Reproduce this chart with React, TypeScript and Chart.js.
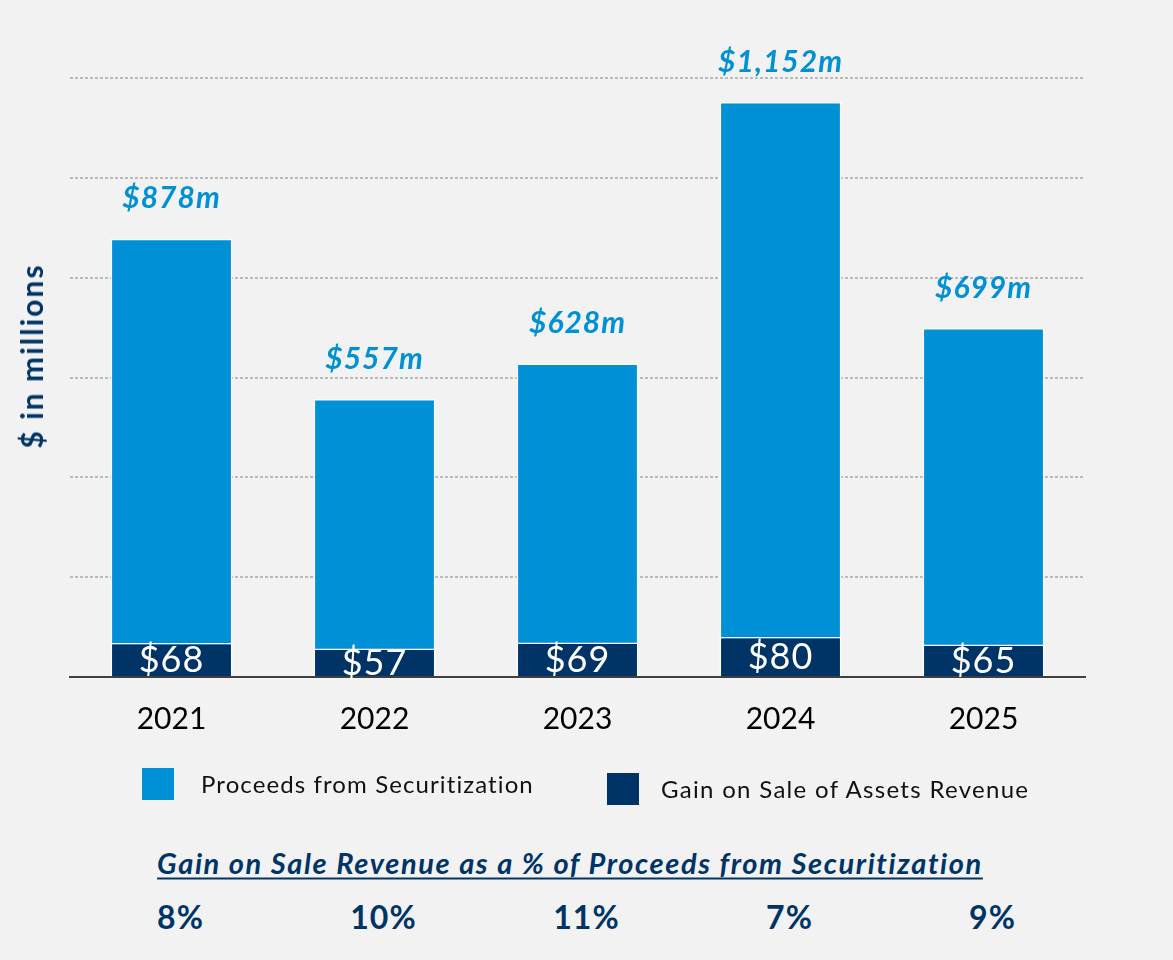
import React, { useEffect, useRef } from 'react';
import { Chart, registerables } from 'chart.js';

Chart.register(...registerables);

const years = ['2021', '2022', '2023', '2024', '2025'];
const proceeds = [878, 557, 628, 1152, 699];
const gainOnSale = [68, 57, 69, 80, 65];
const proceedsLabels = ['$878m', '$557m', '$628m', '$1,152m', '$699m'];
const gainLabels = ['$68', '$57', '$69', '$80', '$65'];
const pctLabels = ['8%', '10%', '11%', '7%', '9%'];
const yMax = 1200;
const yStep = 200;

const BLUE = '#0090D5';
const NAVY = '#003467';
const FONT = 'Lato, "Open Sans", sans-serif';

const labelPlugin = {
  id: 'barLabels',
  afterDatasetsDraw(chart: any) {
    const ctx = chart.ctx;
    const pMeta = chart.getDatasetMeta(0);
    const gMeta = chart.getDatasetMeta(1);
    ctx.save();
    ctx.textAlign = 'center';
    ctx.textBaseline = 'middle';
    pMeta.data.forEach((bar: any, i: number) => {
      ctx.font = `italic bold 30px ${FONT}`;
      ctx.fillStyle = BLUE;
      (ctx as any).letterSpacing = '1px';
      ctx.fillText(proceedsLabels[i], bar.x, bar.y - 40);
    });
    gMeta.data.forEach((bar: any, i: number) => {
      ctx.font = `36px ${FONT}`;
      ctx.fillStyle = '#FFFFFF';
      (ctx as any).letterSpacing = '1px';
      ctx.fillText(gainLabels[i], bar.x, (bar.y + bar.base) / 2 + 1);
    });
    ctx.restore();
  },
};

export default function App() {
  const canvasRef = useRef<HTMLCanvasElement | null>(null);

  useEffect(() => {
    if (!canvasRef.current) return;
    const chart = new Chart(canvasRef.current, {
      type: 'bar',
      data: {
        labels: years,
        datasets: [
          {
            label: 'Proceeds from Securitization',
            data: proceeds,
            backgroundColor: BLUE,
            borderColor: '#FFFFFF',
            borderWidth: 1.5,
            order: 1,
          },
          {
            label: 'Gain on Sale of Assets Revenue',
            data: gainOnSale,
            backgroundColor: NAVY,
            borderColor: '#FFFFFF',
            borderWidth: 1.5,
            order: 0,
          },
        ],
      },
      options: {
        animation: false,
        responsive: false,
        maintainAspectRatio: false,
        layout: { padding: { left: 70, right: 88, top: 78, bottom: 10 } },
        datasets: { bar: { barPercentage: 0.6, categoryPercentage: 1 } },
        plugins: {
          legend: { display: false },
          tooltip: { enabled: false },
          title: { display: false },
        },
        scales: {
          x: {
            stacked: true,
            grid: { display: false, drawTicks: false },
            border: { display: true, color: '#404040', width: 2 },
            ticks: {
              color: '#000000',
              padding: 24,
              font: { family: FONT, size: 30 },
            },
          },
          y: {
            stacked: false,
            min: 0,
            max: yMax,
            grid: {
              drawTicks: false,
              lineWidth: 2,
              color: (c: any) => (c.tick && c.tick.value === 0 ? 'rgba(0,0,0,0)' : '#BBBBBB'),
            },
            border: { display: false, dash: [3, 2] },
            ticks: { display: false, stepSize: yStep },
          },
        },
      },
      plugins: [labelPlugin],
    } as any);
    return () => chart.destroy();
  }, []);

  return (
    <div
      style={{
        position: 'absolute',
        left: 0,
        top: 0,
        width: 1173,
        height: 960,
        background: '#F2F2F2',
        fontFamily: FONT,
        overflow: 'hidden',
      }}
    >
      <canvas
        ref={canvasRef}
        width={1173}
        height={771}
        style={{ position: 'absolute', left: 0, top: 0, width: 1173, height: 771 }}
      />
      <div
        style={{
          position: 'absolute',
          left: 31,
          top: 356,
          transform: 'translate(-50%, -50%) rotate(-90deg)',
          whiteSpace: 'nowrap',
          fontWeight: 700,
          fontSize: 30,
          letterSpacing: 2,
          color: NAVY,
        }}
      >
        $ in millions
      </div>

      <div style={{ position: 'absolute', left: 142, top: 768, width: 32, height: 32, background: BLUE }} />
      <div
        style={{
          position: 'absolute',
          left: 201,
          top: 783,
          transform: 'translateY(-50%)',
          fontSize: 24,
          letterSpacing: 1.1,
          color: '#111',
          whiteSpace: 'nowrap',
        }}
      >
        Proceeds from Securitization
      </div>
      <div style={{ position: 'absolute', left: 607, top: 773, width: 32, height: 32, background: NAVY }} />
      <div
        style={{
          position: 'absolute',
          left: 661,
          top: 788,
          transform: 'translateY(-50%)',
          fontSize: 24,
          letterSpacing: 1.3,
          color: '#111',
          whiteSpace: 'nowrap',
        }}
      >
        Gain on Sale of Assets Revenue
      </div>

      <div
        style={{
          position: 'absolute',
          left: 570,
          top: 862,
          transform: 'translate(-50%, -50%)',
          fontSize: 29,
          fontWeight: 700,
          fontStyle: 'italic',
          letterSpacing: 1.6,
          textDecoration: 'underline',
          textUnderlineOffset: 4,
          color: NAVY,
          whiteSpace: 'nowrap',
        }}
      >
        Gain on Sale Revenue as a % of Proceeds from Securitization
      </div>

      <div style={{ position: 'absolute', left: 79, top: 897, width: 1015, display: 'flex' }}>
        {pctLabels.map((p, i) => (
          <div
            key={i}
            style={{
              width: 203,
              textAlign: 'center',
              fontSize: 32,
              fontWeight: 700,
              letterSpacing: 1,
              color: NAVY,
              lineHeight: '40px',
            }}
          >
            {p}
          </div>
        ))}
      </div>
    </div>
  );
}
